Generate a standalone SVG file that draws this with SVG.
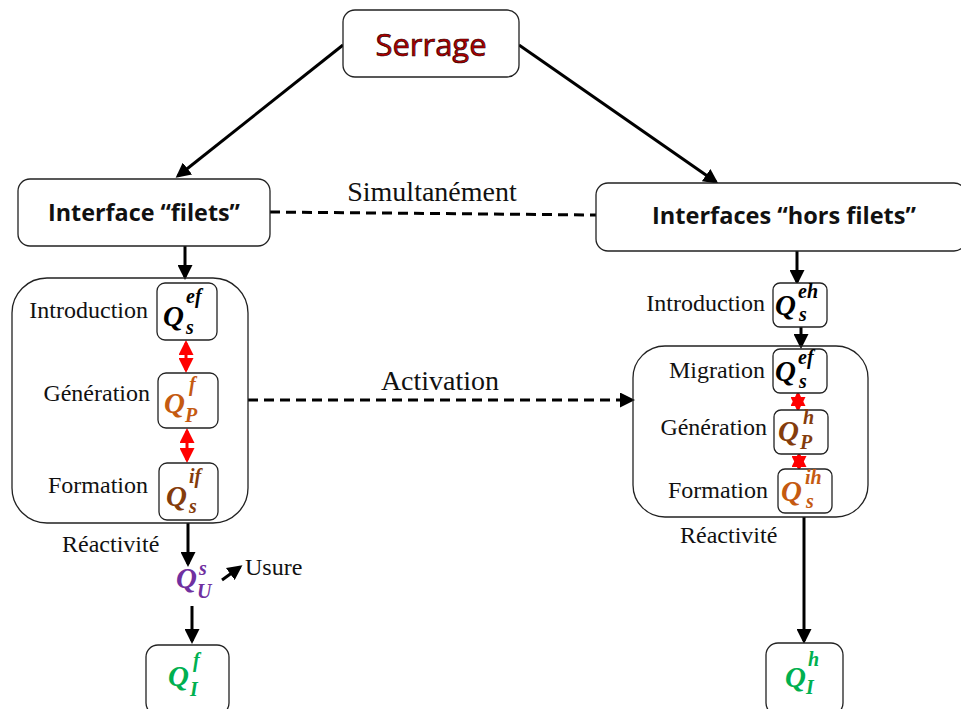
<svg xmlns="http://www.w3.org/2000/svg" width="961" height="709" viewBox="0 0 961 709">
<style>
.box{fill:#fff;stroke:#222;stroke-width:1.3}
.big{fill:none;stroke:#222;stroke-width:1.3}
.lbl{font-family:"Liberation Serif",serif;font-size:24px;fill:#111}
.lbig{font-family:"Liberation Serif",serif;font-size:28px;fill:#111}
.hd{font-family:"Open Sans","Liberation Sans",sans-serif;font-weight:bold;font-size:24px;fill:#111}
.q{font-family:"Liberation Serif",serif;font-weight:bold;font-style:italic;font-size:29px}
.s{font-family:"Liberation Serif",serif;font-weight:bold;font-style:italic;font-size:20px}
.ln{stroke:#000;stroke-width:3;fill:none}
.dash{stroke:#000;stroke-width:3;fill:none;stroke-dasharray:10,6}
.red{stroke:#f00;stroke-width:3;fill:none}
</style>
<defs>
<marker id="ah" markerWidth="5" markerHeight="5" refX="4" refY="2.5" orient="auto" markerUnits="strokeWidth"><path d="M0,0L5,2.5L0,5Z" fill="#000"/></marker>
<marker id="rh" markerWidth="5" markerHeight="5" refX="4" refY="2.5" orient="auto-start-reverse" markerUnits="strokeWidth"><path d="M0,0L5,2.5L0,5Z" fill="#f00"/></marker>
</defs>
<g id="connectors">
<line class="ln" x1="343" y1="45" x2="178" y2="176" marker-end="url(#ah)"/>
<line class="ln" x1="519" y1="45" x2="716" y2="182" marker-end="url(#ah)"/>
<line class="dash" x1="270" y1="212" x2="596" y2="215"/>
<line class="ln" x1="185" y1="246" x2="185" y2="277" marker-end="url(#ah)"/>
<line class="ln" x1="797" y1="251" x2="797" y2="282" marker-end="url(#ah)"/>
<line class="ln" x1="801" y1="327" x2="801" y2="346" marker-end="url(#ah)"/>
<line class="dash" x1="248" y1="400" x2="632" y2="400" marker-end="url(#ah)"/>
<line class="red" x1="186" y1="343" x2="186" y2="370" marker-start="url(#rh)" marker-end="url(#rh)"/>
<line class="red" x1="187" y1="431" x2="187" y2="460" marker-start="url(#rh)" marker-end="url(#rh)"/>
<line class="red" x1="798" y1="394" x2="798" y2="409" marker-start="url(#rh)" marker-end="url(#rh)"/>
<line class="red" x1="799" y1="455" x2="799" y2="468" marker-start="url(#rh)" marker-end="url(#rh)"/>
<line class="ln" x1="188" y1="523" x2="188" y2="564" marker-end="url(#ah)"/>
<line class="ln" x1="222" y1="580" x2="240" y2="567" marker-end="url(#ah)"/>
<line class="ln" x1="192" y1="606" x2="192" y2="641" marker-end="url(#ah)"/>
<line class="ln" x1="804" y1="517" x2="804" y2="641" marker-end="url(#ah)"/>
</g>
<g id="serrage"><rect class="box" x="343" y="10" width="176" height="67" rx="12"/>
<text x="431" y="56" text-anchor="middle" font-family="Open Sans,Liberation Sans,sans-serif" font-size="31" fill="#b00000" stroke="#300" stroke-width="0.7">Serrage</text></g>
<g id="filets"><rect class="box" x="18" y="179" width="252" height="67" rx="12"/>
<text class="hd" x="48" y="221" textLength="192" lengthAdjust="spacingAndGlyphs">Interface “filets”</text></g>
<g id="horsfilets"><rect class="box" x="596" y="183" width="370" height="68" rx="12"/>
<text class="hd" x="652" y="224" textLength="264" lengthAdjust="spacingAndGlyphs">Interfaces “hors filets”</text></g>
<text class="lbig" x="432" y="201" text-anchor="middle">Simultanément</text>
<text class="lbig" x="440" y="390" text-anchor="middle">Activation</text>
<g id="leftgroup"><rect class="big" x="12" y="278" width="236" height="245" rx="35"/></g>
<g id="lqsef"><rect class="box" x="157" y="283" width="60" height="57" rx="8"/>
<text class="lbl" x="148" y="318" text-anchor="end">Introduction</text>
<text class="q" x="163" y="326" fill="#000">Q</text><text class="s" x="186" y="303" fill="#000">ef</text><text class="s" x="186" y="334" fill="#000">s</text></g>
<g id="lqpf"><rect class="box" x="158" y="373" width="60" height="55" rx="8"/>
<text class="lbl" x="150" y="401" text-anchor="end">Génération</text>
<text class="q" x="164" y="413" fill="#c55a11">Q</text><text class="s" x="189" y="391" fill="#c55a11">f</text><text class="s" x="185" y="422" fill="#c55a11">P</text></g>
<g id="lqsif"><rect class="box" x="159" y="463" width="59" height="57" rx="8"/>
<text class="lbl" x="148" y="493" text-anchor="end">Formation</text>
<text class="q" x="166" y="506" fill="#843c0c">Q</text><text class="s" x="189" y="483" fill="#843c0c">if</text><text class="s" x="189" y="513" fill="#843c0c">s</text></g>
<text class="lbl" x="62" y="552">Réactivité</text>
<g id="qus"><text class="q" x="176" y="588" fill="#7030a0">Q</text><text class="s" x="199" y="575" fill="#7030a0">s</text><text class="s" x="197" y="598" fill="#7030a0">U</text></g>
<text class="lbl" x="245" y="575">Usure</text>
<g id="qif"><rect class="box" x="146" y="645" width="83" height="70" rx="12"/>
<text class="q" x="168" y="686" fill="#00b050">Q</text><text class="s" x="193" y="667" fill="#00b050">f</text><text class="s" x="190" y="696" fill="#00b050">I</text></g>
<g id="rqseh"><rect class="box" x="773" y="283" width="54" height="44" rx="7"/>
<text class="lbl" x="765" y="311" text-anchor="end">Introduction</text>
<text class="q" x="775" y="315" fill="#000">Q</text><text class="s" x="798" y="298" fill="#000">eh</text><text class="s" x="799" y="321" fill="#000">s</text></g>
<g id="rightgroup"><rect class="big" x="633" y="346" width="235" height="171" rx="32"/></g>
<g id="rqsef"><rect class="box" x="773" y="349" width="54" height="44" rx="7"/>
<text class="lbl" x="765" y="378" text-anchor="end">Migration</text>
<text class="q" x="775" y="381" fill="#000">Q</text><text class="s" x="798" y="364" fill="#000">ef</text><text class="s" x="799" y="388" fill="#000">s</text></g>
<g id="rqph"><rect class="box" x="774" y="410" width="54" height="44" rx="7"/>
<text class="lbl" x="767" y="435" text-anchor="end">Génération</text>
<text class="q" x="778" y="441" fill="#843c0c">Q</text><text class="s" x="803" y="424" fill="#843c0c">h</text><text class="s" x="800" y="449" fill="#843c0c">P</text></g>
<g id="rqsih"><rect class="box" x="778" y="469" width="54" height="44" rx="7"/>
<text class="lbl" x="768" y="498" text-anchor="end">Formation</text>
<text class="q" x="781" y="501" fill="#c55a11">Q</text><text class="s" x="805" y="484" fill="#c55a11">ih</text><text class="s" x="806" y="508" fill="#c55a11">s</text></g>
<text class="lbl" x="680" y="543">Réactivité</text>
<g id="qih"><rect class="box" x="766" y="643" width="77" height="72" rx="12"/>
<text class="q" x="785" y="687" fill="#00b050">Q</text><text class="s" x="808" y="666" fill="#00b050">h</text><text class="s" x="806" y="694" fill="#00b050">I</text></g>
</svg>
